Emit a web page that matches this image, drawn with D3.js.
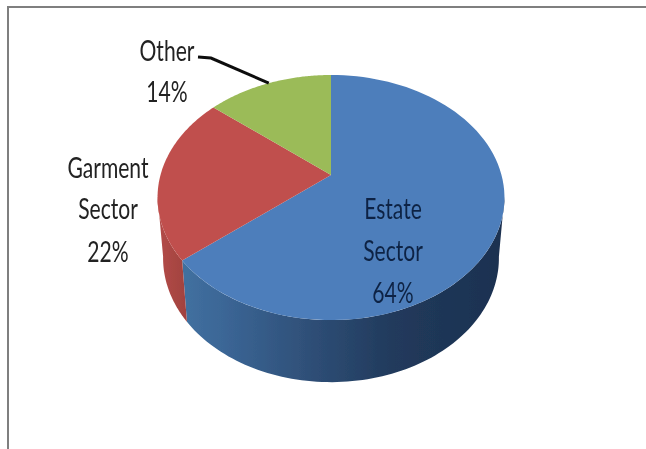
<!DOCTYPE html>
<html>
<head>
<meta charset="utf-8">
<style>
html,body{margin:0;padding:0;background:#fff;overflow:hidden}
svg{display:block}
text{font-family:Lato,"Liberation Sans",sans-serif;font-size:26px;text-anchor:middle}
</style>
<script src="https://cdn.jsdelivr.net/npm/d3@7/dist/d3.min.js"></script>
</head>
<body>
<script>
const categories = ["Estate Sector", "Garment Sector", "Other"];
const values = [64, 22, 14];
const topColors = ["#4d7ebb", "#c0504d", "#9bbb59"];
const labelLines = [["Estate", "Sector", "64%"], ["Garment", "Sector", "22%"], ["Other", "14%"]];
const labelX = [393, 108, 167];
const labelY = [[219, 261, 303], [178, 219, 262], [61, 102]];
const labelColors = ["#0f2444", "#222222", "#222222"];

const W = 646, H = 449;
const svg = d3.select("body").append("svg").attr("width", W).attr("height", H);
const defs = svg.append("defs");
defs.append("filter").attr("id", "soft").attr("x", "-5%").attr("y", "-5%").attr("width", "110%").attr("height", "110%")
  .append("feGaussianBlur").attr("stdDeviation", 0.55);

const blue = defs.append("linearGradient").attr("id", "sideBlue").attr("gradientUnits", "userSpaceOnUse")
  .attr("x1", 185).attr("x2", 505).attr("y1", 0).attr("y2", 0);
[[0, "#41709f"], [0.12, "#3b6696"], [0.4, "#2e4e76"], [0.65, "#213a5c"], [1, "#1c3150"]]
  .forEach(s => blue.append("stop").attr("offset", s[0]).attr("stop-color", s[1]));
const red = defs.append("linearGradient").attr("id", "sideRed").attr("gradientUnits", "userSpaceOnUse")
  .attr("x1", 160).attr("x2", 188).attr("y1", 0).attr("y2", 0);
[[0, "#b24a47"], [1, "#a0423f"]]
  .forEach(s => red.append("stop").attr("offset", s[0]).attr("stop-color", s[1]));

// Perspective projection of the tilted pie disc
const cx = 331, cy = 175, B = 170.5, A = 118.4, k = -0.184;
function project(a, depth) {
  const u = Math.sin(a), v = -Math.cos(a), w = 1 + k * v;
  const sx = depth ? 0.968 : 1, sy = depth ? 1.012 : 1, dy = depth ? 60.3 : 0;
  return [cx + sx * B * u / w, cy + dy + sy * A * v / w];
}
const arcs = d3.pie().value(d => d).sort(null)(values);
const line = d3.line();
const sample = (a0, a1, depth) => d3.range(0, 91).map(i => project(a0 + (a1 - a0) * i / 90, depth));

const g = svg.append("g").attr("filter", "url(#soft)");

// Frame
g.append("path").attr("d", line([[8, H], [8, 7], [W, 7]]))
  .attr("fill", "none").attr("stroke", "#7f7f7f").attr("stroke-width", 2);

// Side walls: visible front part of the rim
const rimStart = 100 * Math.PI / 180, rimEnd = 260 * Math.PI / 180;
const sideFill = ["url(#sideBlue)", "url(#sideRed)"];
arcs.slice(0, 2).forEach((d, i) => {
  const a0 = Math.max(d.startAngle, rimStart), a1 = Math.min(d.endAngle, rimEnd);
  const pts = sample(a0, a1, false).concat(sample(a1, a0, true));
  g.append("path").attr("d", line(pts) + "Z").attr("fill", sideFill[i]);
});

// Top faces
arcs.forEach((d, i) => {
  const pts = [[cx, cy]].concat(sample(d.startAngle, d.endAngle, false));
  g.append("path").attr("d", line(pts) + "Z").attr("fill", topColors[i]).attr("data-name", categories[i]);
});

// Leader line from the "Other" label to its slice
const oth = arcs[2], rim = project((oth.startAngle + oth.endAngle) / 2, false);
g.append("path").attr("d", line([[198, 57], [211, 58], rim]))
  .attr("fill", "none").attr("stroke", "#111").attr("stroke-width", 3);

// Labels, condensed and stretched to the reference's tall narrow lettering
labelLines.forEach((lines, i) => {
  lines.forEach((t, j) => {
    g.append("text")
      .attr("transform", `translate(${labelX[i]},${labelY[i][j]}) scale(0.81,1.14)`)
      .attr("fill", labelColors[i]).text(t);
  });
});
</script>
</body>
</html>
